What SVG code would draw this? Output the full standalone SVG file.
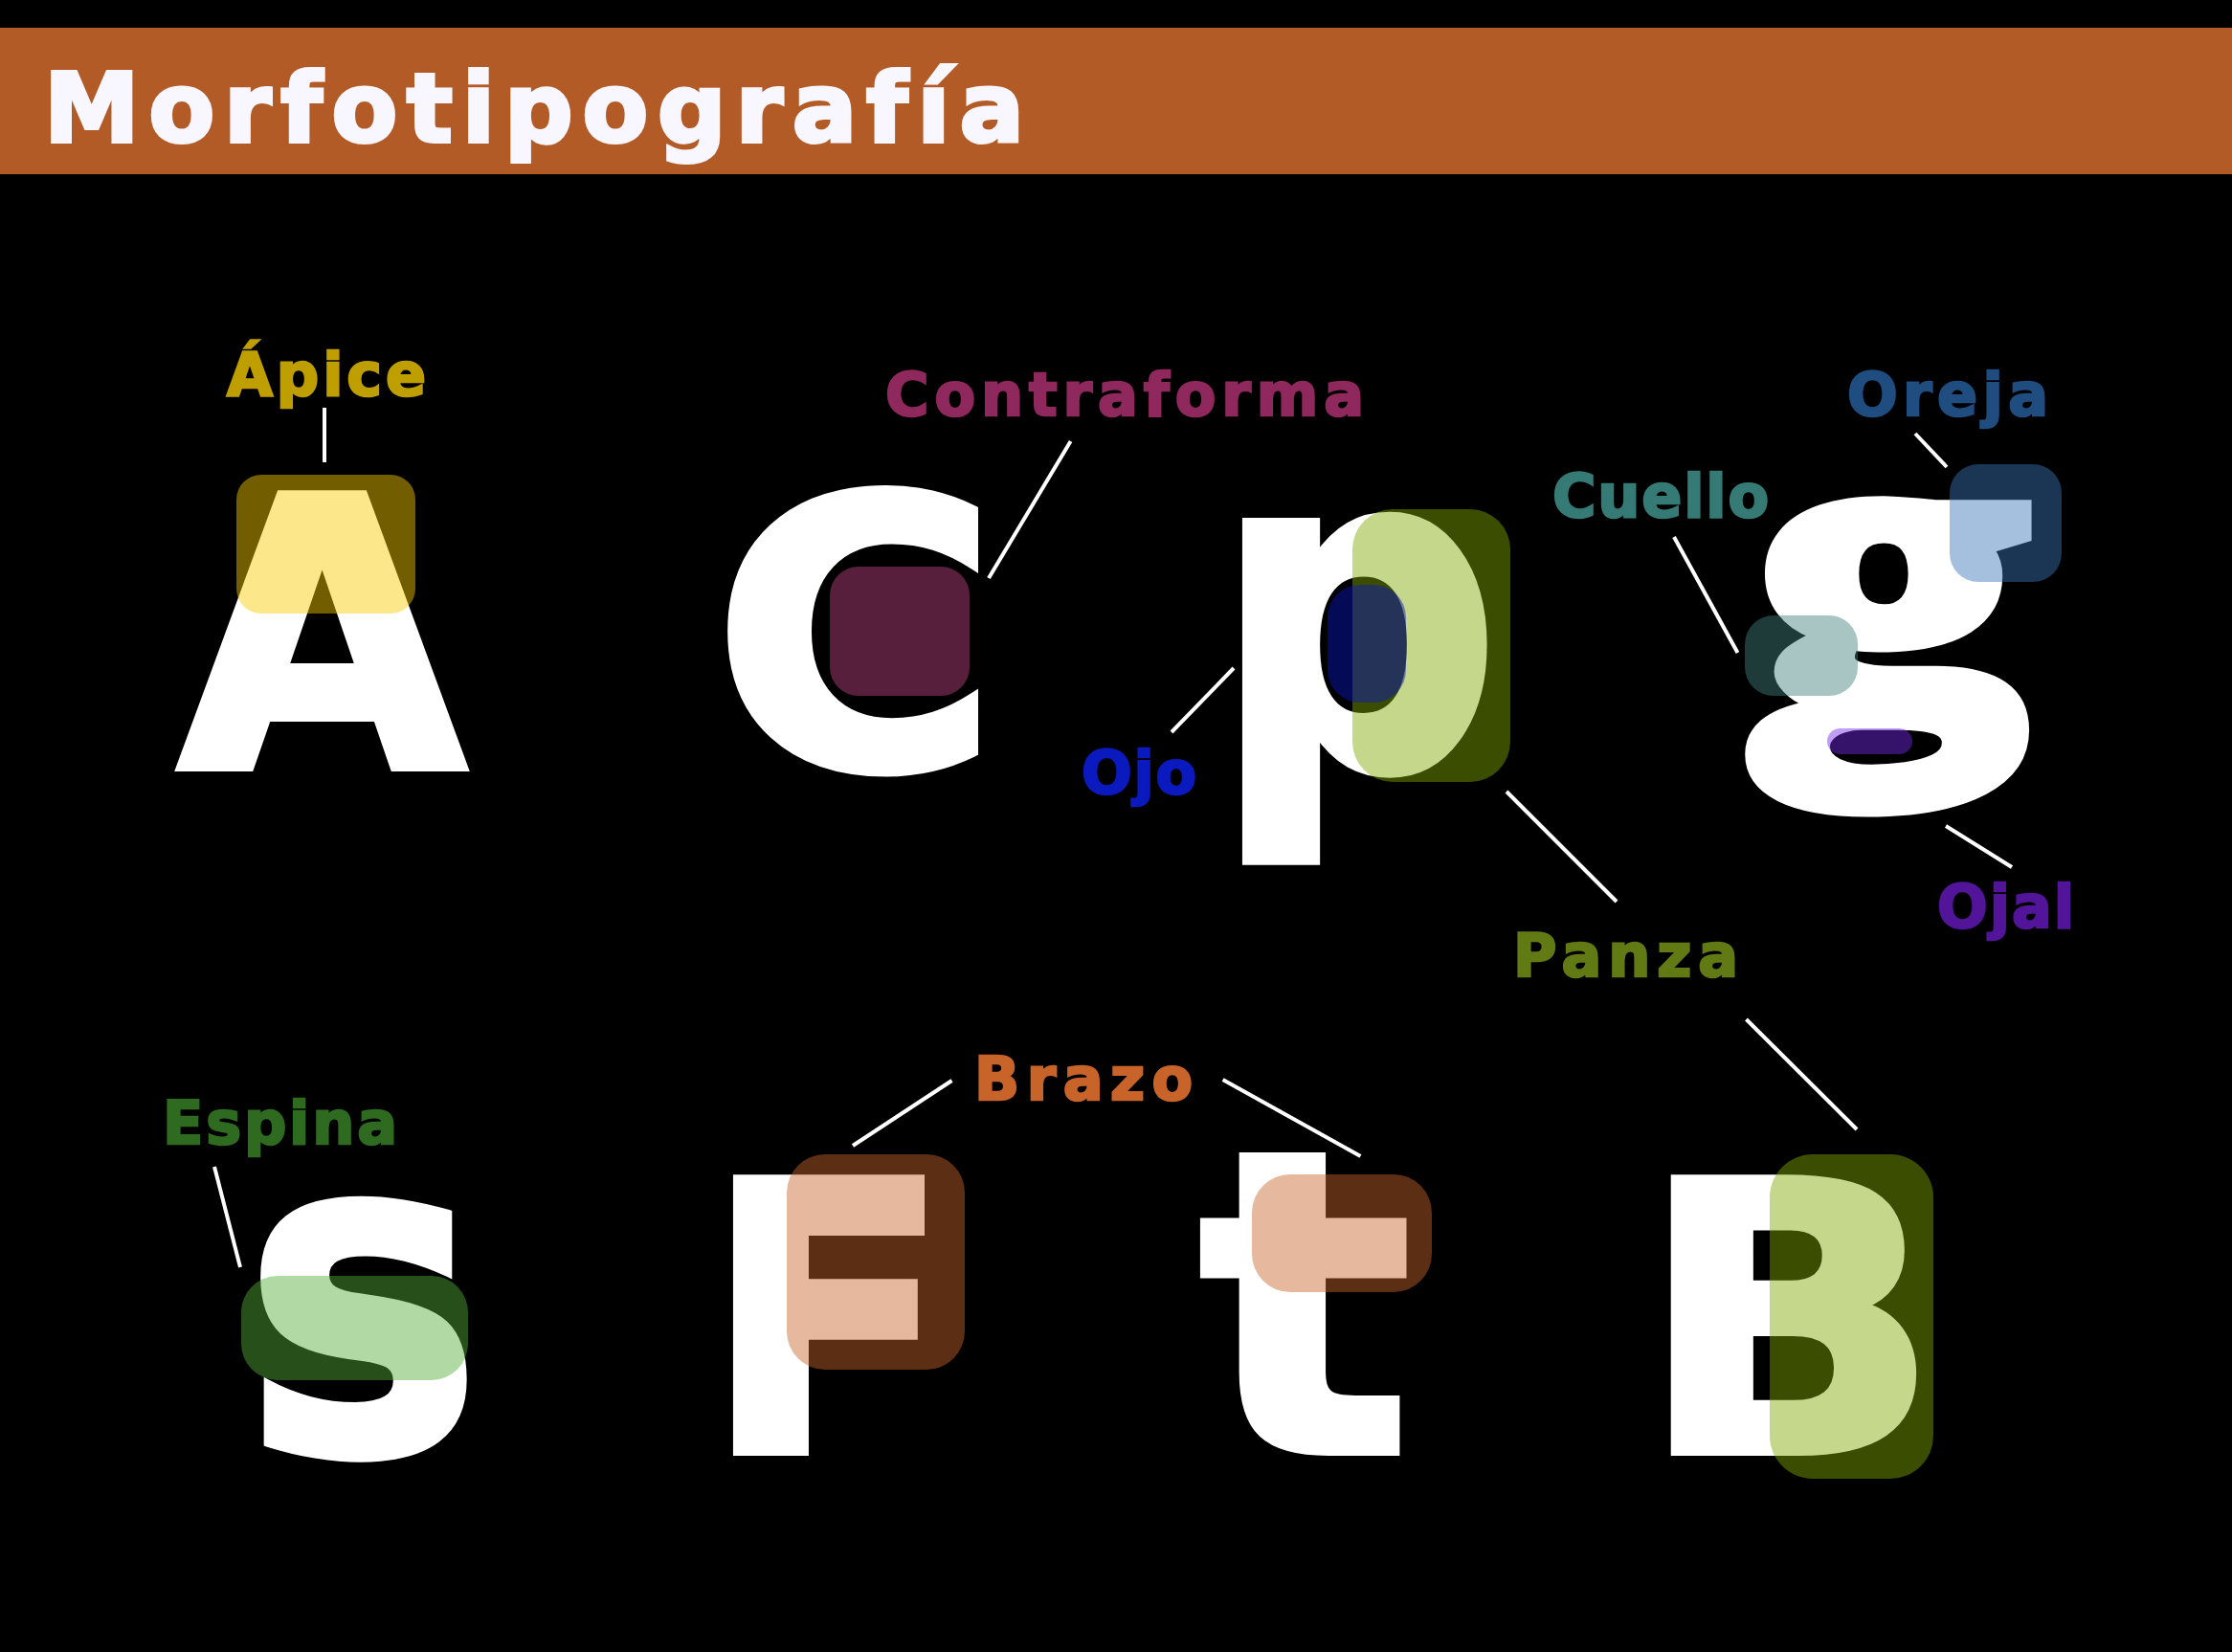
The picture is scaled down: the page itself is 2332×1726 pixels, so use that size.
<svg xmlns="http://www.w3.org/2000/svg" width="2332" height="1726" viewBox="0 0 2332 1726">
  <style>
    .big { font-family: "DejaVu Sans", "Liberation Sans", sans-serif; font-weight: bold; fill: #ffffff; stroke: #ffffff; stroke-width: 8; stroke-linejoin: miter; }
    .bigg { font-family: "Open Sans", "DejaVu Sans", sans-serif; font-weight: 800; fill: #ffffff; stroke: #ffffff; stroke-width: 6; }
    .lbl { font-family: "DejaVu Sans", "Liberation Sans", sans-serif; font-weight: bold; font-size: 62px; stroke-width: 2.5; }
    .title { font-family: "DejaVu Sans", "Liberation Sans", sans-serif; font-weight: bold; font-size: 100px; fill: #f8f6ff; stroke: #f8f6ff; stroke-width: 4; }
    .hl { opacity: 0.46; }
    .conn line { stroke: #ffffff; stroke-width: 4; }
  </style>
  <rect x="0" y="0" width="2332" height="1726" fill="#000000"/>
  <g id="header">
    <rect x="0" y="29" width="2332" height="153" fill="#b35b26"/>
    <text class="title" x="46" y="148" textLength="1024" lengthAdjust="spacing">Morfotipografía</text>
  </g>

  <g id="letter-A">
    <text class="big" x="186" y="802" font-size="392" textLength="301" lengthAdjust="spacingAndGlyphs">A</text>
    <rect class="hl" x="247" y="496" width="187" height="145" rx="26" fill="#f8ca00"/>
  </g>
  <g id="letter-C">
    <text class="big" x="744" y="802" font-size="392" textLength="300" lengthAdjust="spacingAndGlyphs">C</text>
    <rect class="hl" x="867" y="592" width="146" height="135" rx="30" fill="#c04382"/>
  </g>
  <g id="letter-p">
    <text class="big" x="1266" y="802" font-size="470" textLength="303" lengthAdjust="spacingAndGlyphs">p</text>
    <rect class="hl" x="1413" y="532" width="165" height="285" rx="42" fill="#7ea700"/>
    <rect class="hl" x="1387" y="611" width="82" height="123" rx="34" fill="#0b16bd"/>
  </g>
  <g id="letter-g">
    <text class="bigg" x="1822" y="752" font-size="410" textLength="306" lengthAdjust="spacingAndGlyphs">g</text>
    <rect class="hl" x="2037" y="485" width="117" height="123" rx="30" fill="#3876b7"/>
    <rect class="hl" x="1823" y="643" width="118" height="84" rx="30" fill="#417f7d"/>
    <rect class="hl" x="1909" y="761" width="89" height="27" rx="13.5" fill="#7329e9"/>
  </g>
  <g id="letter-s">
    <text class="big" x="254" y="1517" font-size="470" textLength="250" lengthAdjust="spacingAndGlyphs">s</text>
    <rect class="hl" x="252" y="1333" width="237" height="109" rx="38" fill="#55ac39"/>
  </g>
  <g id="letter-F">
    <text class="big" x="735" y="1517" font-size="392" textLength="259" lengthAdjust="spacingAndGlyphs">F</text>
    <rect class="hl" x="822" y="1206" width="186" height="225" rx="40" fill="#c8642b"/>
  </g>
  <g id="letter-t">
    <text class="big" x="1252" y="1517" font-size="440" textLength="224" lengthAdjust="spacingAndGlyphs">t</text>
    <rect class="hl" x="1308" y="1227" width="188" height="123" rx="40" fill="#c8642b"/>
  </g>
  <g id="letter-B">
    <text class="big" x="1712" y="1517" font-size="392" textLength="315" lengthAdjust="spacingAndGlyphs">B</text>
    <rect class="hl" x="1849" y="1206" width="171" height="339" rx="45" fill="#7ea700"/>
  </g>

  <g id="label-apice"><text class="lbl" x="237" y="413" fill="#bf9e00" stroke="#bf9e00" textLength="208" lengthAdjust="spacing">Ápice</text></g>
  <g id="label-contraforma"><text class="lbl" x="925" y="434" fill="#8f285c" stroke="#8f285c" textLength="500" lengthAdjust="spacing">Contraforma</text></g>
  <g id="label-ojo"><text class="lbl" x="1130" y="829" fill="#0a1abf" stroke="#0a1abf" textLength="120" lengthAdjust="spacing">Ojo</text></g>
  <g id="label-cuello"><text class="lbl" x="1622" y="540" fill="#357a74" stroke="#357a74" textLength="226" lengthAdjust="spacing">Cuello</text></g>
  <g id="label-oreja"><text class="lbl" x="1930" y="434" fill="#1f4d80" stroke="#1f4d80" textLength="210" lengthAdjust="spacing">Oreja</text></g>
  <g id="label-ojal"><text class="lbl" x="2024" y="969" fill="#52159a" stroke="#52159a" textLength="143" lengthAdjust="spacing">Ojal</text></g>
  <g id="label-panza"><text class="lbl" x="1581" y="1020" fill="#627a14" stroke="#627a14" textLength="235" lengthAdjust="spacing">Panza</text></g>
  <g id="label-espina"><text class="lbl" x="170" y="1195" fill="#2e6b20" stroke="#2e6b20" textLength="245" lengthAdjust="spacing">Espina</text></g>
  <g id="label-brazo"><text class="lbl" x="1018" y="1149" fill="#c8642a" stroke="#c8642a" textLength="228" lengthAdjust="spacing">Brazo</text></g>

  <g id="connectors" class="conn">
    <line x1="339" y1="426" x2="339" y2="483"/>
    <line x1="1118.6" y1="461" x2="1033" y2="604"/>
    <line x1="1289" y1="698" x2="1224" y2="765"/>
    <line x1="1749" y1="561" x2="1815.5" y2="682"/>
    <line x1="2001" y1="453" x2="2034" y2="488"/>
    <line x1="2033" y1="863" x2="2102" y2="906"/>
    <line x1="1574" y1="827" x2="1689" y2="942"/>
    <line x1="1824.5" y1="1065" x2="1940" y2="1180"/>
    <line x1="224" y1="1219" x2="251" y2="1324"/>
    <line x1="994.5" y1="1129" x2="891" y2="1197"/>
    <line x1="1277.6" y1="1128" x2="1421.5" y2="1208"/>
  </g>
</svg>
